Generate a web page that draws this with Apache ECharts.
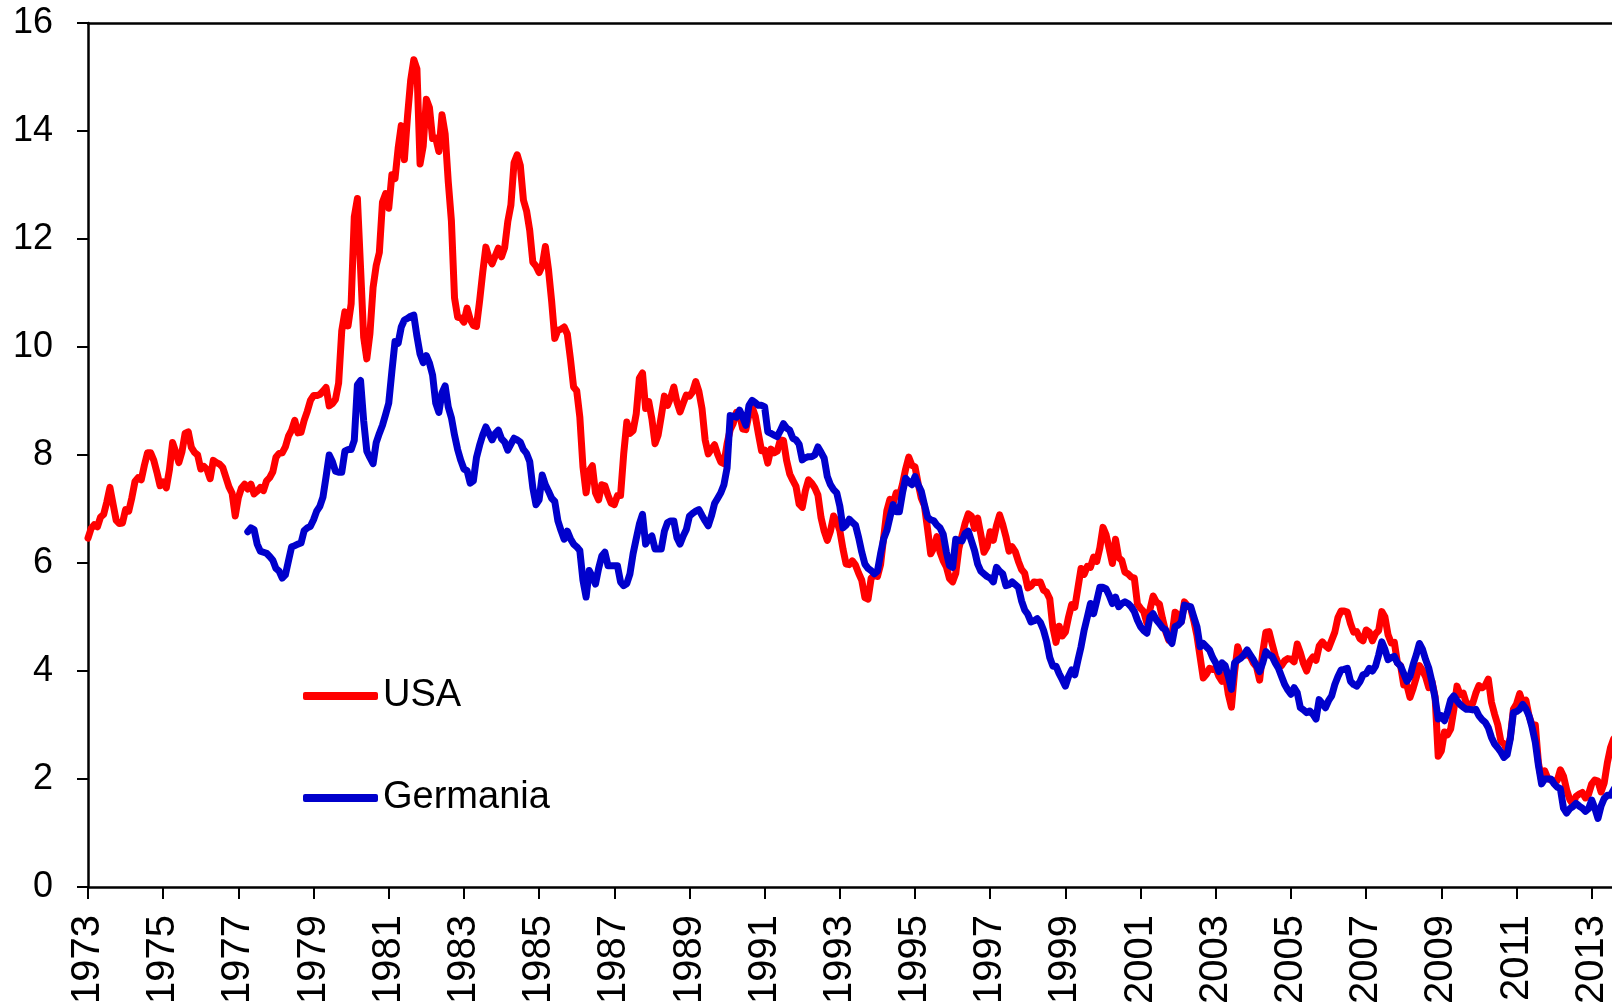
<!DOCTYPE html>
<html>
<head>
<meta charset="utf-8">
<title>USA vs Germania</title>
<script src="https://cdn.jsdelivr.net/npm/echarts@6/dist/echarts.min.js"></script>
<style>
  html, body { margin: 0; padding: 0; background: #fff; }
  #chart { width: 1612px; height: 1007px; }
</style>
</head>
<body>
<div id="chart"></div>
<script>
// anni sull'asse x (un'etichetta ogni 2 anni)
const firstYear = 1973;
const yearLabels = ['1973', '1975', '1977', '1979', '1981', '1983', '1985', '1987', '1989', '1991',
  '1993', '1995', '1997', '1999', '2001', '2003', '2005', '2007', '2009', '2011', '2013'];
const yieldTicks = [0, 2, 4, 6, 8, 10, 12, 14, 16];
const seriesNames = ['USA', 'Germania'];

// rendimenti mensili USA, da gennaio 1973
const usaStart = 0;
const usaYield = [
  6.46, 6.64, 6.71, 6.67, 6.85, 6.90, 7.13, 7.40, 7.09, 6.79, 6.73, 6.74,
  6.99, 6.96, 7.21, 7.51, 7.58, 7.54, 7.81, 8.04, 8.04, 7.90, 7.68, 7.43,
  7.50, 7.39, 7.73, 8.23, 8.06, 7.86, 8.06, 8.40, 8.43, 8.14, 8.05, 8.00,
  7.74, 7.79, 7.73, 7.56, 7.90, 7.86, 7.83, 7.77, 7.59, 7.41, 7.29, 6.87,
  7.21, 7.39, 7.46, 7.37, 7.46, 7.28, 7.33, 7.40, 7.34, 7.52, 7.58, 7.69,
  7.96, 8.03, 8.04, 8.15, 8.35, 8.46, 8.64, 8.41, 8.42, 8.64, 8.81, 9.01,
  9.10, 9.10, 9.12, 9.18, 9.25, 8.91, 8.95, 9.03, 9.33, 10.30, 10.65, 10.39,
  10.80, 12.41, 12.75, 11.47, 10.18, 9.78, 10.25, 11.10, 11.51, 11.75, 12.68, 12.84,
  12.57, 13.19, 13.12, 13.68, 14.10, 13.47, 14.28, 14.94, 15.32, 15.15, 13.39, 13.72,
  14.59, 14.43, 13.86, 13.87, 13.62, 14.30, 13.95, 13.06, 12.34, 10.91, 10.55, 10.54,
  10.46, 10.72, 10.51, 10.40, 10.38, 10.85, 11.38, 11.85, 11.65, 11.54, 11.69, 11.83,
  11.67, 11.84, 12.32, 12.63, 13.41, 13.56, 13.36, 12.72, 12.52, 12.16, 11.57, 11.50,
  11.38, 11.51, 11.86, 11.43, 10.85, 10.16, 10.31, 10.33, 10.37, 10.24, 9.78, 9.26,
  9.19, 8.70, 7.78, 7.30, 7.71, 7.80, 7.30, 7.17, 7.45, 7.43, 7.25, 7.11,
  7.08, 7.25, 7.25, 8.02, 8.61, 8.40, 8.45, 8.76, 9.42, 9.52, 8.86, 8.99,
  8.67, 8.21, 8.37, 8.72, 9.09, 8.92, 9.06, 9.26, 8.98, 8.80, 8.96, 9.11,
  9.09, 9.17, 9.36, 9.18, 8.86, 8.28, 8.02, 8.11, 8.19, 8.01, 7.87, 7.84,
  8.21, 8.47, 8.59, 8.79, 8.76, 8.48, 8.47, 8.75, 8.89, 8.72, 8.39, 8.08,
  8.09, 7.85, 8.11, 8.04, 8.07, 8.28, 8.27, 7.90, 7.65, 7.53, 7.42, 7.09,
  7.03, 7.34, 7.54, 7.48, 7.39, 7.26, 6.84, 6.59, 6.42, 6.59, 6.87, 6.77,
  6.60, 6.26, 5.98, 5.97, 6.04, 5.96, 5.81, 5.68, 5.36, 5.33, 5.72, 5.77,
  5.75, 5.97, 6.48, 6.97, 7.18, 7.10, 7.30, 7.24, 7.46, 7.74, 7.96, 7.81,
  7.78, 7.47, 7.20, 7.06, 6.63, 6.17, 6.28, 6.49, 6.20, 6.04, 5.93, 5.71,
  5.65, 5.81, 6.27, 6.51, 6.74, 6.91, 6.87, 6.64, 6.83, 6.53, 6.20, 6.30,
  6.58, 6.42, 6.69, 6.89, 6.71, 6.49, 6.22, 6.30, 6.21, 6.03, 5.88, 5.81,
  5.54, 5.57, 5.65, 5.64, 5.65, 5.50, 5.46, 5.34, 4.81, 4.53, 4.83, 4.65,
  4.72, 5.00, 5.23, 5.18, 5.54, 5.90, 5.79, 5.94, 5.92, 6.11, 6.03, 6.28,
  6.66, 6.52, 6.26, 5.99, 6.44, 6.10, 6.05, 5.83, 5.80, 5.74, 5.72, 5.24,
  5.16, 5.10, 4.89, 5.14, 5.39, 5.28, 5.24, 4.97, 4.73, 4.57, 4.65, 5.09,
  5.04, 4.91, 5.28, 5.21, 5.16, 4.93, 4.65, 4.26, 3.87, 3.94, 4.05, 4.03,
  4.05, 3.90, 3.81, 3.96, 3.57, 3.33, 3.98, 4.45, 4.27, 4.29, 4.30, 4.27,
  4.15, 4.08, 3.83, 4.35, 4.72, 4.73, 4.50, 4.28, 4.13, 4.10, 4.19, 4.23,
  4.22, 4.17, 4.50, 4.34, 4.14, 4.00, 4.18, 4.26, 4.20, 4.46, 4.54, 4.47,
  4.42, 4.57, 4.72, 4.99, 5.11, 5.11, 5.09, 4.88, 4.72, 4.73, 4.60, 4.56,
  4.76, 4.72, 4.56, 4.69, 4.75, 5.10, 5.00, 4.67, 4.52, 4.53, 4.15, 4.10,
  3.74, 3.74, 3.51, 3.68, 3.88, 4.10, 4.01, 3.89, 3.69, 3.81, 3.53, 2.42,
  2.52, 2.87, 2.82, 2.93, 3.29, 3.72, 3.56, 3.59, 3.40, 3.39, 3.40, 3.59,
  3.73, 3.69, 3.73, 3.85, 3.42, 3.20, 3.01, 2.70, 2.65, 2.54, 2.76, 3.29,
  3.39, 3.58, 3.41, 3.46, 3.17, 3.00, 3.00, 2.30, 1.98, 2.15, 2.01, 1.98,
  1.97, 1.97, 2.17, 2.05, 1.80, 1.62, 1.53, 1.68, 1.72, 1.75, 1.65, 1.72,
  1.91, 1.98, 1.96, 1.76, 1.93, 2.30, 2.58, 2.74, 2.81
];

// rendimenti mensili Germania, da aprile 1977
const germanyStart = 4 + 3 / 12;
const germanyYield = [
  6.58, 6.65, 6.62, 6.35, 6.22, 6.20, 6.18, 6.12, 6.05,
  5.90, 5.85, 5.72, 5.78, 6.04, 6.30, 6.32, 6.35, 6.37, 6.60, 6.65, 6.68,
  6.80, 6.96, 7.05, 7.22, 7.60, 8.00, 7.88, 7.70, 7.68, 7.68, 8.07, 8.10,
  8.10, 8.27, 9.30, 9.38, 8.63, 8.07, 7.95, 7.84, 8.23, 8.40, 8.55, 8.75,
  8.96, 9.55, 10.10, 10.07, 10.37, 10.50, 10.53, 10.57, 10.59, 10.20, 9.87, 9.71,
  9.84, 9.70, 9.48, 8.96, 8.79, 9.15, 9.28, 8.89, 8.69, 8.37, 8.10, 7.90,
  7.74, 7.71, 7.48, 7.52, 7.95, 8.18, 8.37, 8.52, 8.40, 8.28, 8.40, 8.46,
  8.30, 8.24, 8.09, 8.20, 8.31, 8.28, 8.24, 8.10, 8.03, 7.88, 7.39, 7.08,
  7.17, 7.63, 7.45, 7.33, 7.20, 7.14, 6.78, 6.60, 6.44, 6.59, 6.45, 6.35,
  6.30, 6.23, 5.68, 5.37, 5.86, 5.75, 5.61, 5.90, 6.13, 6.20, 5.95, 5.95,
  5.95, 5.95, 5.65, 5.58, 5.62, 5.80, 6.17, 6.45, 6.72, 6.90, 6.35, 6.45,
  6.50, 6.26, 6.26, 6.26, 6.59, 6.75, 6.78, 6.78, 6.47, 6.35, 6.50, 6.62,
  6.87, 6.92, 6.96, 6.99, 6.88, 6.78, 6.69, 6.87, 7.10, 7.20, 7.30, 7.45,
  7.76, 8.73, 8.72, 8.70, 8.83, 8.70, 8.55, 8.92, 9.01, 8.97, 8.92, 8.92,
  8.89, 8.43, 8.40, 8.37, 8.34, 8.45, 8.58, 8.50, 8.46, 8.31, 8.28, 8.20,
  7.91, 7.95, 7.97, 7.97, 8.00, 8.15, 8.05, 7.94, 7.60, 7.45, 7.36, 7.30,
  7.05, 6.65, 6.70, 6.81, 6.75, 6.70, 6.47, 6.20, 5.98, 5.90, 5.86, 5.80,
  5.85, 6.17, 6.45, 6.60, 6.85, 7.08, 6.95, 6.95, 7.30, 7.57, 7.50, 7.45,
  7.60, 7.45, 7.33, 7.08, 6.85, 6.80, 6.78, 6.70, 6.65, 6.53, 6.20, 5.95,
  5.92, 6.44, 6.42, 6.41, 6.55, 6.59, 6.41, 6.23, 5.98, 5.85, 5.80, 5.75,
  5.72, 5.65, 5.92, 5.85, 5.80, 5.58, 5.60, 5.65, 5.60, 5.55, 5.30, 5.13,
  5.05, 4.91, 4.93, 4.97, 4.90, 4.76, 4.55, 4.25, 4.09, 4.09, 3.95, 3.84,
  3.72, 3.90, 4.02, 3.93, 4.20, 4.45, 4.76, 5.00, 5.25, 5.06, 5.30, 5.55,
  5.55, 5.52, 5.40, 5.25, 5.37, 5.19, 5.25, 5.28, 5.25, 5.19, 5.10, 4.94,
  4.82, 4.75, 4.70, 5.00, 5.06, 4.95, 4.88, 4.80, 4.76, 4.60, 4.51, 4.82,
  4.85, 4.91, 5.22, 5.20, 5.19, 5.00, 4.82, 4.45, 4.51, 4.45, 4.39, 4.25,
  4.15, 3.99, 4.15, 4.10, 3.90, 3.66, 4.15, 4.20, 4.24, 4.30, 4.39, 4.30,
  4.21, 4.10, 3.99, 4.15, 4.36, 4.30, 4.27, 4.15, 4.05, 3.90, 3.75, 3.65,
  3.57, 3.69, 3.60, 3.32, 3.28, 3.23, 3.26, 3.20, 3.11, 3.47, 3.40, 3.32,
  3.45, 3.54, 3.75, 3.90, 4.02, 4.03, 4.05, 3.81, 3.75, 3.72, 3.80, 3.93,
  3.95, 4.05, 4.00, 4.09, 4.30, 4.54, 4.40, 4.21, 4.25, 4.27, 4.15, 4.09,
  3.95, 3.81, 3.90, 4.12, 4.30, 4.51, 4.40, 4.21, 4.05, 3.80, 3.50, 3.11,
  3.17, 3.08, 3.25, 3.47, 3.54, 3.45, 3.38, 3.33, 3.29, 3.29, 3.28, 3.29,
  3.17, 3.10, 3.05, 2.95, 2.77, 2.65, 2.58, 2.50, 2.40, 2.45, 2.74, 3.23,
  3.25, 3.29, 3.38, 3.30, 3.17, 2.95, 2.68, 2.25, 1.91, 2.00, 2.00, 2.00,
  1.91, 1.85, 1.82, 1.46, 1.37, 1.45, 1.49, 1.55, 1.50, 1.46, 1.40, 1.45,
  1.61, 1.46, 1.27, 1.50, 1.64, 1.70, 1.70, 1.80, 1.90
];

const toPoints = (start, arr) => arr.map((v, i) => [start + i / 12, v]);

const font = 'Liberation Sans, Arial, sans-serif';
const xMax = 40.54; // il grafico è tagliato a metà 2013

const chart = echarts.init(document.getElementById('chart'));
chart.setOption({
  animation: false,
  backgroundColor: '#fff',
  grid: { left: 88, right: 0, top: 23, bottom: 112.5 },
  legend: {
    data: seriesNames,
    orient: 'vertical',
    left: 298,
    top: 672,
    itemWidth: 75,
    itemHeight: 8,
    itemGap: 64,
    icon: 'roundRect',
    textStyle: { fontSize: 38, fontFamily: font, color: '#000' }
  },
  xAxis: [{
    type: 'value',
    min: 0,
    max: xMax,
    interval: 2,
    splitLine: { show: false },
    axisLine: { lineStyle: { color: '#000', width: 2.5 } },
    axisTick: { length: 12, lineStyle: { color: '#000', width: 2 } },
    axisLabel: {
      rotate: 90,
      margin: 28,
      fontSize: 40,
      fontFamily: font,
      color: '#000',
      showMaxLabel: false,
      formatter: v => (v % 2 === 0 ? (yearLabels[v / 2] || '') : '')
    }
  }, {
    type: 'value',
    position: 'top',
    min: 0,
    max: xMax,
    axisLine: { lineStyle: { color: '#000', width: 2.5 } },
    axisTick: { show: false },
    axisLabel: { show: false },
    splitLine: { show: false }
  }],
  yAxis: {
    type: 'value',
    min: yieldTicks[0],
    max: yieldTicks[yieldTicks.length - 1],
    interval: 2,
    splitLine: { show: false },
    axisLine: { show: true, lineStyle: { color: '#000', width: 2.5 } },
    axisTick: { show: true, length: 11, lineStyle: { color: '#000', width: 2 } },
    axisLabel: { margin: 35, fontSize: 36, fontFamily: font, color: '#000' }
  },
  series: [
    {
      name: seriesNames[0],
      type: 'line',
      data: toPoints(usaStart, usaYield),
      showSymbol: false,
      clip: true,
      color: '#ff0000',
      lineStyle: { width: 7, cap: 'round', join: 'round' },
      z: 2
    },
    {
      name: seriesNames[1],
      type: 'line',
      data: toPoints(germanyStart, germanyYield),
      showSymbol: false,
      clip: true,
      color: '#0000cc',
      lineStyle: { width: 7, cap: 'round', join: 'round' },
      z: 3
    }
  ]
});
</script>
</body>
</html>
